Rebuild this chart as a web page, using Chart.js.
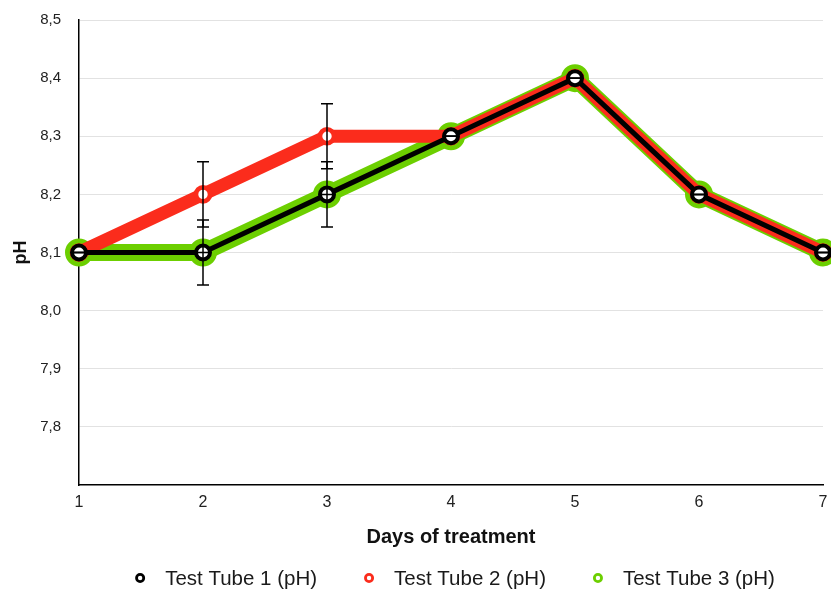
<!DOCTYPE html>
<html>
<head>
<meta charset="utf-8">
<script src="https://cdn.jsdelivr.net/npm/chart.js@4/dist/chart.umd.min.js"></script>
<style>
  html, body { margin: 0; padding: 0; background: #ffffff; }
  #wrap { width: 831px; height: 590px; position: relative; }
</style>
</head>
<body>
<div id="wrap"><canvas id="c" width="831" height="590"></canvas></div>
<script>
// Days of treatment and measured pH for each test tube
const days = ['1', '2', '3', '4', '5', '6', '7'];
const tube1 = [8.1, 8.1, 8.2, 8.3, 8.4, 8.2, 8.1];
const tube2 = [8.1, 8.2, 8.3, 8.3, 8.4, 8.2, 8.1];
const tube3 = [8.1, 8.1, 8.2, 8.3, 8.4, 8.2, 8.1];
// Error (± pH) per day
const tube1Err = [0, 0.056, 0.056, 0, 0, 0, 0];
const tube2Err = [0, 0.056, 0.056, 0, 0, 0, 0];
const tube3Err = [0, 0, 0, 0, 0, 0, 0];
const yTicks = [7.8, 7.9, 8.0, 8.1, 8.2, 8.3, 8.4, 8.5];
const seriesNames = ['Test Tube 1 (pH)', 'Test Tube 2 (pH)', 'Test Tube 3 (pH)'];

const BLACK = '#000000';
const RED = '#fb2c1c';
const GREEN = '#6ccf00';
const FONT = '"Liberation Sans", Arial, Helvetica, sans-serif';

// Vertical error bars with caps, drawn on top of every series
const errorBars = {
  id: 'errorBars',
  afterDatasetsDraw(chart, args, opts) {
    const { ctx } = chart;
    const y = chart.scales.y;
    ctx.save();
    ctx.strokeStyle = opts.color;
    ctx.lineWidth = opts.width;
    chart.data.datasets.forEach((ds, i) => {
      const meta = chart.getDatasetMeta(i);
      if (meta.hidden) return;
      meta.data.forEach((pt, j) => {
        const v = ds.data[j];
        const e = ds.errors[j];
        const top = y.getPixelForValue(v + e);
        const bot = y.getPixelForValue(v - e);
        const x = pt.x, c = opts.cap;
        ctx.beginPath();
        ctx.moveTo(x, top); ctx.lineTo(x, bot);
        ctx.moveTo(x - c, top); ctx.lineTo(x + c, top);
        ctx.moveTo(x - c, bot); ctx.lineTo(x + c, bot);
        ctx.stroke();
      });
    });
    ctx.restore();
  }
};

// Legend row: ring marker followed by the series name
const ringLegend = {
  id: 'ringLegend',
  afterDraw(chart, args, opts) {
    const { ctx, chartArea } = chart;
    ctx.save();
    ctx.font = opts.font;
    const items = chart.data.datasets.map(ds => ({ text: ds.label, color: ds.legendColor }));
    const widths = items.map(it => ctx.measureText(it.text).width);
    let total = 0;
    widths.forEach((w, i) => {
      total += opts.markerToText + w + (i < widths.length - 1 ? opts.textToMarker : 0);
    });
    total += opts.ringRadius + opts.ringWidth / 2;
    const cx = (chartArea.left + chartArea.right) / 2 + opts.shift;
    let x = cx - total / 2 + opts.ringRadius + opts.ringWidth / 2;
    const yRow = chart.height - opts.bottom;
    ctx.textBaseline = 'middle';
    ctx.textAlign = 'left';
    items.forEach((it, i) => {
      ctx.beginPath();
      ctx.arc(x, yRow, opts.ringRadius, 0, Math.PI * 2);
      ctx.fillStyle = '#ffffff';
      ctx.fill();
      ctx.lineWidth = opts.ringWidth;
      ctx.strokeStyle = it.color;
      ctx.stroke();
      ctx.fillStyle = opts.color;
      ctx.fillText(it.text, x + opts.markerToText, yRow + 1);
      x += opts.markerToText + widths[i] + opts.textToMarker;
    });
    ctx.restore();
  }
};

const fmt = v => v.toFixed(1).replace('.', ',');

new Chart(document.getElementById('c'), {
  type: 'line',
  data: {
    labels: days,
    datasets: [
      {
        label: seriesNames[0], data: tube1, errors: tube1Err, legendColor: BLACK,
        borderColor: BLACK, borderWidth: 5,
        pointRadius: 7, pointBorderWidth: 4, pointBackgroundColor: '#ffffff', pointBorderColor: BLACK,
        pointHoverRadius: 7
      },
      {
        label: seriesNames[1], data: tube2, errors: tube2Err, legendColor: RED,
        borderColor: RED, borderWidth: 13,
        pointRadius: 7, pointBorderWidth: 4.6, pointBackgroundColor: '#ffffff', pointBorderColor: RED,
        pointHoverRadius: 7
      },
      {
        label: seriesNames[2], data: tube3, errors: tube3Err, legendColor: GREEN,
        borderColor: GREEN, borderWidth: 17,
        pointRadius: 13, pointBorderWidth: 2, pointBackgroundColor: GREEN, pointBorderColor: GREEN,
        pointHoverRadius: 13
      }
    ]
  },
  options: {
    responsive: false,
    animation: false,
    devicePixelRatio: 1,
    layout: { autoPadding: false, padding: { left: 10, right: 8, top: 20, bottom: 41 } },
    datasets: {
      line: { tension: 0, clip: false, borderJoinStyle: 'round', borderCapStyle: 'round', fill: false }
    },
    plugins: {
      legend: { display: false },
      tooltip: { enabled: false },
      errorBars: { color: '#000000', width: 1.5, cap: 6 },
      ringLegend: {
        font: '20.5px ' + FONT, color: '#1a1a1a',
        ringRadius: 3.6, ringWidth: 2.8,
        markerToText: 25, textToMarker: 52, shift: 4, bottom: 12
      }
    },
    scales: {
      x: {
        type: 'category',
        offset: false,
        afterFit: scale => {
          scale.height = 64;
          scale.paddingLeft = 0;
          scale.paddingRight = 0;
        },
        grid: { display: false, drawTicks: false },
        border: { display: true, color: '#000000', width: 1.5 },
        ticks: { color: '#222222', padding: 8, font: { family: FONT, size: 16 }, maxRotation: 0, autoSkip: false },
        title: {
          display: true, text: 'Days of treatment', color: '#111111',
          font: { family: FONT, size: 20, weight: 'bold' },
          padding: { top: 13, bottom: 0 }
        }
      },
      y: {
        min: 7.7, max: 8.5,
        afterBuildTicks: scale => { scale.ticks = yTicks.map(v => ({ value: v })); },
        afterFit: scale => {
          scale.width = 69;
          scale.paddingTop = 0;
          scale.paddingBottom = 0;
        },
        grid: { color: '#e2e2e2', lineWidth: 1, drawTicks: false },
        border: { display: true, color: '#000000', width: 1.5 },
        ticks: { color: '#222222', padding: 18, font: { family: FONT, size: 15 }, callback: v => fmt(v) },
        title: {
          display: true, text: 'pH', color: '#111111',
          font: { family: FONT, size: 18, weight: 'bold' },
          padding: { top: 0, bottom: 8 }
        }
      }
    }
  },
  plugins: [errorBars, ringLegend]
});
</script>
</body>
</html>
